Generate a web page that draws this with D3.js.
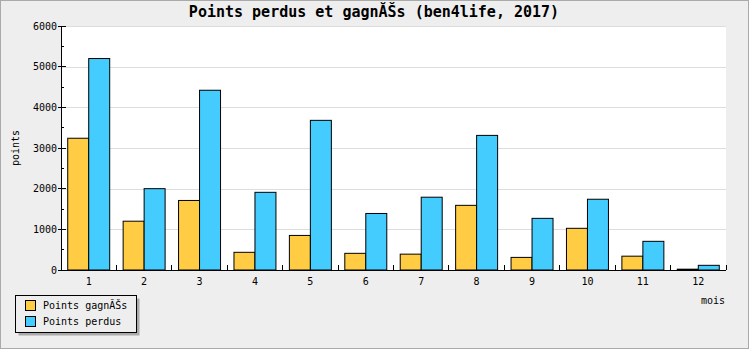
<!DOCTYPE html>
<html>
<head>
<meta charset="utf-8">
<script src="https://cdn.jsdelivr.net/npm/d3@7"></script>
<style>
    body { margin: 0; background: #fff; }
    svg { display: block; }
</style>
</head>
<body>
<div id="chart"></div>
<script>
/* Points perdus et gagnés - grouped bar chart */

const months = ["1", "2", "3", "4", "5", "6", "7", "8", "9", "10", "11", "12"];
const seriesNames = ["Points gagnĂŠs", "Points perdus"];
const gagnes = [3240, 1200, 1710, 435, 850, 410, 390, 1590, 310, 1025, 340, 20];
const perdus = [5200, 2000, 4420, 1910, 3680, 1390, 1790, 3310, 1270, 1740, 705, 115];
const yTicks = [0, 1000, 2000, 3000, 4000, 5000, 6000];
const yMinorTicks = [500, 1500, 2500, 3500, 4500, 5500];

const width = 750;
const height = 350;
const plot = { left: 61, right: 726, top: 26, bottom: 270 };
const colors = ["#ffcc44", "#44ccff"];
const font = "'DejaVu Sans Mono', monospace";

const svg = d3.select("#chart").append("svg")
    .attr("width", width)
    .attr("height", height);

// Outer background + frame
svg.append("rect")
    .attr("x", 0.5).attr("y", 0.5)
    .attr("width", width - 2).attr("height", height - 2)
    .attr("fill", "#eeeeee")
    .attr("stroke", "#aaaaaa");

// Plot area
svg.append("rect")
    .attr("x", plot.left).attr("y", plot.top)
    .attr("width", plot.right - plot.left)
    .attr("height", plot.bottom - plot.top)
    .attr("fill", "#ffffff");

// Scales
const x0 = d3.scaleBand()
    .domain(months)
    .range([plot.left, plot.right])
    .padding(0);

const x1 = d3.scaleBand()
    .domain(seriesNames)
    .range([0, x0.bandwidth()])
    .paddingInner(0)
    .paddingOuter(0.32);

const y = d3.scaleLinear()
    .domain([0, 6000])
    .range([plot.bottom, plot.top]);

const snap = v => Math.round(v) + 0.5;

// Grid lines
svg.append("g")
    .selectAll("line")
    .data(yTicks.filter(d => d > 0))
    .enter()
    .append("line")
    .attr("x1", plot.left).attr("x2", plot.right)
    .attr("y1", d => snap(y(d))).attr("y2", d => snap(y(d)))
    .attr("stroke", "#dddddd");

// Bars
const rows = months.map((m, i) => ({ month: m, values: [gagnes[i], perdus[i]] }));

const groups = svg.append("g")
    .selectAll("g")
    .data(rows)
    .enter()
    .append("g")
    .attr("transform", d => `translate(${x0(d.month)},0)`);

groups.selectAll("rect")
    .data(d => d.values.map((v, k) => ({ name: seriesNames[k], value: v, k: k })))
    .enter()
    .append("rect")
    .attr("x", d => x1(d.name))
    .attr("y", d => y(d.value))
    .attr("width", x1.bandwidth())
    .attr("height", d => plot.bottom - y(d.value))
    .attr("fill", d => colors[d.k])
    .attr("stroke", "#000")
    .attr("stroke-width", 1);

// Axes lines
const axes = svg.append("g").attr("stroke", "#000").attr("shape-rendering", "crispEdges");
axes.append("line")
    .attr("x1", plot.left).attr("x2", plot.left)
    .attr("y1", plot.top).attr("y2", plot.bottom);
axes.append("line")
    .attr("x1", plot.left).attr("x2", plot.right)
    .attr("y1", plot.bottom).attr("y2", plot.bottom);

// Y ticks (major cross the axis, minor inside)
axes.selectAll(".ymaj")
    .data(yTicks)
    .enter()
    .append("line")
    .attr("x1", plot.left - 3).attr("x2", plot.left + 5)
    .attr("y1", d => y(d)).attr("y2", d => y(d));
axes.selectAll(".ymin")
    .data(yMinorTicks)
    .enter()
    .append("line")
    .attr("x1", plot.left).attr("x2", plot.left + 3)
    .attr("y1", d => y(d)).attr("y2", d => y(d));

// X ticks at band boundaries, pointing up
axes.selectAll(".xt")
    .data(months.slice(1).map(m => x0(m)).concat([plot.right]))
    .enter()
    .append("line")
    .attr("x1", d => d).attr("x2", d => d)
    .attr("y1", plot.bottom).attr("y2", plot.bottom - 5);

// Y labels
svg.append("g")
    .selectAll("text")
    .data(yTicks)
    .enter()
    .append("text")
    .attr("x", plot.left - 4)
    .attr("y", d => y(d) + 3.5)
    .attr("text-anchor", "end")
    .style("font-family", font)
    .style("font-size", "10px")
    .text(d => d);

// X labels
svg.append("g")
    .selectAll("text")
    .data(months)
    .enter()
    .append("text")
    .attr("x", d => x0(d) + x0.bandwidth() / 2)
    .attr("y", 284.5)
    .attr("text-anchor", "middle")
    .style("font-family", font)
    .style("font-size", "10px")
    .text(d => d);

// Title
svg.append("text")
    .attr("x", 374)
    .attr("y", 17)
    .attr("text-anchor", "middle")
    .style("font-family", font)
    .style("font-size", "15px")
    .style("font-weight", "bold")
    .text("Points perdus et gagnĂŠs (ben4life, 2017)");

// Axis titles
svg.append("text")
    .attr("transform", `translate(19,${(plot.top + plot.bottom) / 2}) rotate(-90)`)
    .attr("text-anchor", "middle")
    .style("font-family", font)
    .style("font-size", "10px")
    .text("points");

svg.append("text")
    .attr("x", 725)
    .attr("y", 304)
    .attr("text-anchor", "end")
    .style("font-family", font)
    .style("font-size", "10px")
    .text("mois");

// Legend with shadow
const legend = svg.append("g");
legend.append("rect")
    .attr("x", 18.5).attr("y", 298.5)
    .attr("width", 121).attr("height", 37)
    .attr("fill", "#aaaaaa");
legend.append("rect")
    .attr("x", 15.5).attr("y", 295.5)
    .attr("width", 121).attr("height", 37)
    .attr("fill", "#eeeeee")
    .attr("stroke", "#000");

const items = legend.selectAll(".item")
    .data(seriesNames)
    .enter()
    .append("g")
    .attr("transform", (d, i) => `translate(0,${i * 16})`);

items.append("rect")
    .attr("x", 25.5).attr("y", 300.5)
    .attr("width", 10).attr("height", 10)
    .attr("fill", (d, i) => colors[i])
    .attr("stroke", "#000");

items.append("text")
    .attr("x", 43)
    .attr("y", 309)
    .style("font-family", font)
    .style("font-size", "10px")
    .text(d => d);
</script>
</body>
</html>
